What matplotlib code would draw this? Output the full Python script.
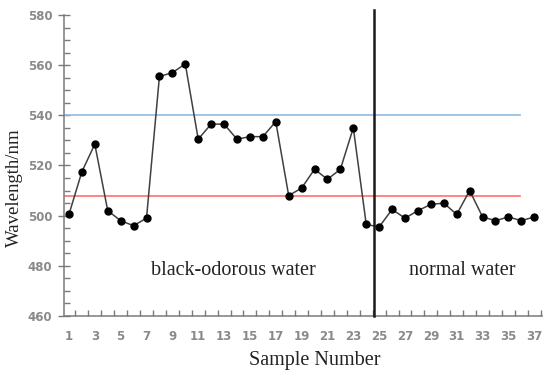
import numpy as np
import matplotlib
matplotlib.use("Agg")
import matplotlib.pyplot as plt
from matplotlib.ticker import MultipleLocator, FixedLocator

# sample numbers and measured wavelengths
samples = list(range(1, 38))
wavelength = [500.5, 517.5, 528.5, 502, 498, 496, 499, 555.5, 557, 560.5,
              530.5, 536.5, 536.5, 530.5, 531.5, 531.5, 537.5, 508, 511, 518.5,
              514.5, 518.5, 535, 496.5, 495.5, 502.5, 499, 502, 504.5, 505,
              500.5, 510, 499.5, 498, 499.5, 498, 499.5]

blue_level = 540
red_level = 507.8
split_at = 24.6
x_ticklabels = list(range(1, 38, 2))

fig = plt.figure(figsize=(5.5, 3.76), dpi=100)
ax = fig.add_axes([0.1169, 0.1596, 0.8686, 0.8005])

ax.set_xlim(0.64, 37.6)
ax.set_ylim(460, 580)

line_end = (35.9 - 0.64) / (37.6 - 0.64)
ax.axhline(blue_level, xmin=0, xmax=line_end, color="#8fbbe6", lw=1.2)
ax.axhline(red_level, xmin=0, xmax=line_end, color="#ff6f6f", lw=1.2)

ax.plot(samples, wavelength, color="#404040", lw=1.1, marker="o", ms=5,
        mfc="black", mec="black", zorder=3)

ax.plot([split_at, split_at], [460, 582], color="#1a1a1a", lw=1.8, clip_on=False, zorder=4)

serif = ["Liberation Serif", "DejaVu Serif"]
ax.text(13.7, 478.3, "black-odorous water", fontsize=14.5, family=serif,
        ha="center", va="center", color="#222222")
ax.text(31.4, 478.3, "normal water", fontsize=14.5, family=serif,
        ha="center", va="center", color="#222222")

fig.text(315 / 550, 1 - 361 / 376, "Sample Number", fontsize=14.5, family=serif,
         ha="center", va="center", color="#222222")
fig.text(14 / 550, 1 - 188 / 376, "Wavelength/nm", fontsize=13.5, family=serif,
         rotation=90, ha="center", va="center", color="#222222")

for s in ["top", "right"]:
    ax.spines[s].set_visible(False)
for s in ["left", "bottom"]:
    ax.spines[s].set_color("#7a7a7a")
    ax.spines[s].set_linewidth(1.1)

ax.yaxis.set_major_locator(MultipleLocator(20))
ax.yaxis.set_minor_locator(MultipleLocator(5))
ax.tick_params(axis="y", which="major", direction="inout", length=9, width=1,
               color="#7a7a7a", labelsize=8.5, labelcolor="#8a8a8a", pad=4)
ax.tick_params(axis="y", which="minor", direction="in", length=4, width=1, color="#7a7a7a")

ax.xaxis.set_major_locator(FixedLocator(x_ticklabels))
ax.set_xticklabels([str(v) for v in x_ticklabels])
ax.xaxis.set_minor_locator(FixedLocator(np.arange(1.5, 38, 1)))
ax.tick_params(axis="x", which="major", length=0, labelsize=8.5, labelcolor="#8a8a8a", pad=10)
ax.tick_params(axis="x", which="minor", direction="in", length=4, width=1, color="#7a7a7a")

for lab in ax.get_xticklabels() + ax.get_yticklabels():
    lab.set_fontweight("bold")

fig.savefig("out.png", dpi=100)
